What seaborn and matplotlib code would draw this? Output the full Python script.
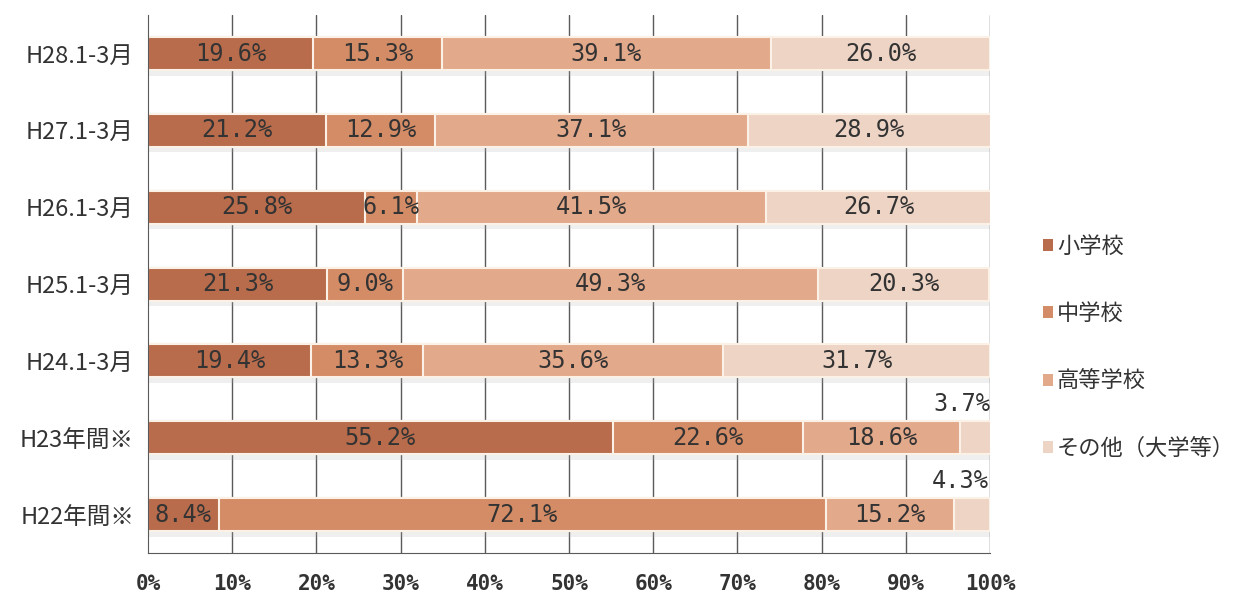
import numpy as np
import pandas as pd
import matplotlib
matplotlib.use("Agg")
import matplotlib.pyplot as plt
import matplotlib.patheffects as pe
from matplotlib.patches import Patch
import seaborn as sns

# data
periods = ["H28.1-3月", "H27.1-3月", "H26.1-3月", "H25.1-3月", "H24.1-3月", "H23年間※", "H22年間※"]
shogakko = [19.6, 21.2, 25.8, 21.3, 19.4, 55.2, 8.4]
chugakko = [15.3, 12.9, 6.1, 9.0, 13.3, 22.6, 72.1]
koto = [39.1, 37.1, 41.5, 49.3, 35.6, 18.6, 15.2]
sonota = [26.0, 28.9, 26.7, 20.3, 31.7, 3.7, 4.3]
school_names = ["小学校", "中学校", "高等学校", "その他（大学等）"]
colors = ["#b86c4c", "#d48c66", "#e3a98b", "#eed4c5"]
xtick_labels = ["0%", "10%", "20%", "30%", "40%", "50%", "60%", "70%", "80%", "90%", "100%"]

sns.set_style("white")
plt.rcParams["font.family"] = ["Noto Sans CJK JP", "DejaVu Sans"]

df = pd.DataFrame({"period": periods, school_names[0]: shogakko, school_names[1]: chugakko,
                   school_names[2]: koto, school_names[3]: sonota})
cum = df[school_names].cumsum(axis=1)

fig = plt.figure(figsize=(12.38, 5.97), dpi=100)
ax = fig.add_axes([0.1195, 0.0737, 0.6802, 0.901])

# vertical gridlines behind bars
for t in range(10, 101, 10):
    ax.axvline(t, color="#5a5a5a", lw=1.0, zorder=0)

shadow = [pe.SimplePatchShadow(offset=(0, -4), shadow_rgbFace="#b0b0b0", alpha=0.2), pe.Normal()]

# stacked bars drawn back to front from cumulative totals
for k in range(len(school_names) - 1, -1, -1):
    sns.barplot(x=cum[school_names[k]], y=df["period"], orient="h", color=colors[k],
                width=0.43, edgecolor="#fbf1e6", linewidth=1.5, saturation=1, ax=ax, zorder=2)

for p in ax.patches[:len(periods)]:
    p.set_path_effects(shadow)

# value labels
for i in range(len(periods)):
    left = 0
    for k, name in enumerate(school_names):
        v = df[name][i]
        if v < 5:
            ax.text(cum[name][i] - 0.1, i - 0.28, f"{v:.1f}%", ha="right", va="bottom",
                    fontsize=17, family="DejaVu Sans Mono", color="#333333", zorder=5)
        else:
            ax.text(left + v / 2, i, f"{v:.1f}%", ha="center", va="center",
                    fontsize=17, family="DejaVu Sans Mono", color="#333333", zorder=5)
        left += v

ax.set_xlim(0, 100)
ax.set_ylim(6.5, -0.5)
ax.set_xticks(range(0, 101, 10))
ax.set_xticklabels(xtick_labels, fontsize=15, fontweight="bold", family="DejaVu Sans Mono", color="#333333")
ax.set_xlabel("")
ax.set_ylabel("")
ax.tick_params(axis="x", direction="out", length=8, width=1, color="#5a5a5a", pad=7)
ax.tick_params(axis="y", which="major", length=0, labelsize=17, pad=10, labelcolor="#333333")
ax.set_yticks(np.arange(-0.5, 7.0, 1.0), minor=True)
ax.tick_params(axis="y", which="minor", direction="out", length=5, width=1, color="#5a5a5a")

for s in ["top", "right"]:
    ax.spines[s].set_visible(False)
ax.spines["left"].set_color("#5a5a5a")
ax.spines["bottom"].set_color("#5a5a5a")
ax.spines["bottom"].set_linestyle((0, (2, 1)))

handles = [Patch(facecolor=c, edgecolor="none") for c in colors]
fig.legend(handles, school_names, loc="upper left", bbox_to_anchor=(0.826, 0.64),
           frameon=False, fontsize=16, handlelength=0.45, handleheight=0.45,
           handletextpad=0.2, labelspacing=2.0, labelcolor="#333333")

fig.savefig("out.png", dpi=100)
